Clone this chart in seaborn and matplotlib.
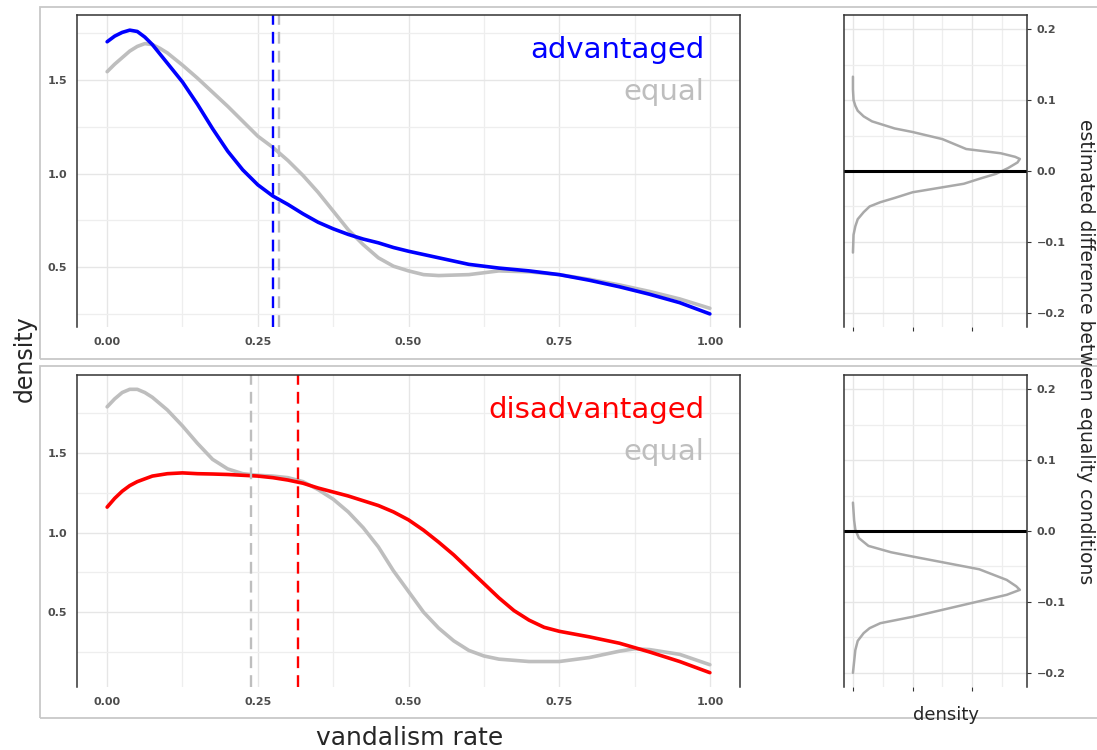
import numpy as np
import pandas as pd
import matplotlib
matplotlib.use("Agg")
import matplotlib.pyplot as plt
from matplotlib.patches import Rectangle
from matplotlib.ticker import MultipleLocator, FixedLocator
import seaborn as sns

# ---------------- data ----------------
adv_x = [0.0, 0.0125, 0.025, 0.0375, 0.05, 0.0625, 0.075, 0.0875, 0.1, 0.125, 0.15, 0.175, 0.2,
         0.225, 0.25, 0.275, 0.3, 0.325, 0.35, 0.375, 0.4, 0.425, 0.45, 0.475, 0.5, 0.55, 0.6,
         0.65, 0.7, 0.75, 0.8, 0.85, 0.9, 0.95, 1.0]
adv_y = [1.705, 1.735, 1.755, 1.767, 1.76, 1.73, 1.69, 1.64, 1.59, 1.49, 1.37, 1.24, 1.12,
         1.02, 0.94, 0.88, 0.835, 0.785, 0.74, 0.705, 0.675, 0.65, 0.63, 0.605, 0.585, 0.55, 0.515,
         0.495, 0.48, 0.46, 0.43, 0.395, 0.355, 0.31, 0.25]

eq1_x = [0.0, 0.0125, 0.025, 0.0375, 0.05, 0.0625, 0.075, 0.0875, 0.1, 0.125, 0.15, 0.175, 0.2,
         0.225, 0.25, 0.275, 0.3, 0.325, 0.35, 0.375, 0.4, 0.425, 0.45, 0.475, 0.5, 0.525, 0.55,
         0.6, 0.65, 0.7, 0.75, 0.8, 0.85, 0.9, 0.95, 1.0]
eq1_y = [1.545, 1.585, 1.62, 1.655, 1.68, 1.695, 1.69, 1.67, 1.645, 1.58, 1.51, 1.435, 1.36,
         1.28, 1.20, 1.14, 1.07, 0.99, 0.90, 0.80, 0.70, 0.62, 0.55, 0.505, 0.48, 0.46, 0.455,
         0.46, 0.48, 0.475, 0.46, 0.435, 0.405, 0.37, 0.33, 0.28]

dis_x = [0.0, 0.0125, 0.025, 0.0375, 0.05, 0.075, 0.1, 0.125, 0.15, 0.175, 0.2, 0.225, 0.25,
         0.275, 0.3, 0.325, 0.35, 0.375, 0.4, 0.425, 0.45, 0.475, 0.5, 0.525, 0.55, 0.575, 0.6,
         0.625, 0.65, 0.675, 0.7, 0.725, 0.75, 0.8, 0.85, 0.9, 0.95, 1.0]
dis_y = [1.16, 1.215, 1.26, 1.295, 1.32, 1.355, 1.37, 1.375, 1.37, 1.368, 1.365, 1.36, 1.355,
         1.345, 1.33, 1.31, 1.28, 1.255, 1.23, 1.20, 1.17, 1.13, 1.08, 1.015, 0.94, 0.86, 0.77,
         0.68, 0.59, 0.51, 0.45, 0.405, 0.38, 0.345, 0.305, 0.25, 0.19, 0.12]

eq2_x = [0.0, 0.0125, 0.025, 0.0375, 0.05, 0.0625, 0.075, 0.0875, 0.1, 0.125, 0.15, 0.175, 0.2,
         0.225, 0.25, 0.275, 0.3, 0.325, 0.35, 0.375, 0.4, 0.425, 0.45, 0.475, 0.5, 0.525, 0.55,
         0.575, 0.6, 0.625, 0.65, 0.7, 0.75, 0.8, 0.85, 0.875, 0.9, 0.95, 1.0]
eq2_y = [1.79, 1.84, 1.88, 1.90, 1.90, 1.88, 1.85, 1.81, 1.77, 1.67, 1.56, 1.46, 1.40,
         1.37, 1.36, 1.355, 1.345, 1.32, 1.27, 1.21, 1.13, 1.03, 0.91, 0.76, 0.63, 0.50, 0.40,
         0.32, 0.26, 0.225, 0.205, 0.19, 0.19, 0.215, 0.255, 0.27, 0.265, 0.235, 0.17]

mean_adv, mean_eq1 = 0.275, 0.285
mean_dis, mean_eq2 = 0.317, 0.239

diff1_y = [0.133, 0.115, 0.10, 0.092, 0.085, 0.077, 0.07, 0.06, 0.055, 0.045, 0.031, 0.025,
           0.020, 0.017, 0.012, 0.004, -0.004, -0.010, -0.018, -0.030, -0.038, -0.044, -0.050,
           -0.058, -0.068, -0.078, -0.09, -0.115]
diff1_d = [0.0, 0.0, 0.05, 0.2, 0.4, 0.9, 1.6, 3.5, 5.0, 7.5, 9.5, 12.4,
           13.6, 14.0, 13.8, 13.0, 12.0, 10.8, 9.3, 5.0, 3.5, 2.3, 1.4,
           0.9, 0.4, 0.2, 0.05, 0.0]

diff2_y = [0.040, 0.015, 0.002, -0.010, -0.021, -0.030, -0.036, -0.045, -0.054, -0.069,
           -0.078, -0.083, -0.090, -0.101, -0.121, -0.130, -0.137, -0.144, -0.155, -0.168, -0.200]
diff2_d = [0.0, 0.1, 0.2, 0.5, 1.3, 3.2, 5.0, 7.8, 10.6, 12.9,
           13.7, 14.0, 12.9, 10.1, 5.0, 2.3, 1.4, 0.9, 0.4, 0.2, 0.0]

x_ticks = [0.0, 0.25, 0.5, 0.75, 1.0]
x_ticklabels = ["0.00", "0.25", "0.50", "0.75", "1.00"]
y_ticks = [0.5, 1.0, 1.5]
d_ticks = [-0.2, -0.1, 0.0, 0.1, 0.2]

BLUE, RED, GREY, DGREY = "#0000ff", "#ff0000", "#bebebe", "#a9a9a9"

sns.set_style("white")
plt.rcParams["font.family"] = ["DejaVu Sans"]

fig = plt.figure(figsize=(10.97, 7.5), dpi=100)

W, H = 1097, 750
def pos(l, t, r, b):
    return [l / W, 1 - b / H, (r - l) / W, (b - t) / H]

ax1 = fig.add_axes(pos(77, 15, 740, 327))
ax2 = fig.add_axes(pos(77, 375, 740, 687))
ax3 = fig.add_axes(pos(844, 15, 1027, 327))
ax4 = fig.add_axes(pos(844, 375, 1027, 687))

# panel boxes
fig.patches.append(Rectangle((40 / W, 1 - 359 / H), 1.1, (359 - 7) / H, transform=fig.transFigure,
                             fill=False, ec="#c8c8c8", lw=1.3, zorder=0))
fig.patches.append(Rectangle((40 / W, 1 - 718 / H), 1.1, (718 - 366) / H, transform=fig.transFigure,
                             fill=False, ec="#c8c8c8", lw=1.3, zorder=0))

def style(ax):
    ax.set_facecolor("white")
    for s in ["top", "left", "right"]:
        ax.spines[s].set_visible(True)
        ax.spines[s].set_color("#333333")
        ax.spines[s].set_linewidth(1.1)
    ax.spines["bottom"].set_visible(False)
    ax.grid(True, which="major", color="#e6e6e6", lw=1.0)
    ax.grid(True, which="minor", color="#eeeeee", lw=0.9)
    ax.set_axisbelow(True)
    ax.tick_params(axis="both", which="major", length=3, width=0.8, color="#333333",
                   labelsize=8, labelcolor="#4d4d4d", pad=4)
    ax.tick_params(which="minor", length=0)
    for lab in ax.get_xticklabels() + ax.get_yticklabels():
        lab.set_fontweight("bold")
    ax.set_xlabel("")
    ax.set_ylabel("")

# ---- left panels ----
def left_panel(ax, gx, gy, cx, cy, col, m_eq, m_c, name, ylim):
    sns.lineplot(x=gx, y=gy, ax=ax, color=GREY, lw=2.6, estimator=None, sort=False)
    sns.lineplot(x=cx, y=cy, ax=ax, color=col, lw=2.6, estimator=None, sort=False)
    ax.axvline(m_eq, color=GREY, lw=1.7, ls=(0, (5, 3)))
    ax.axvline(m_c, color=col, lw=1.7, ls=(0, (5, 3)))
    ax.set_xlim(-0.05, 1.05)
    ax.set_ylim(*ylim)
    ax.set_xticks(x_ticks)
    ax.set_xticklabels(x_ticklabels)
    ax.set_yticks(y_ticks)
    ax.xaxis.set_minor_locator(MultipleLocator(0.125))
    ax.yaxis.set_minor_locator(FixedLocator([0.25, 0.75, 1.25, 1.75]))
    style(ax)
    ax.text(0.946, 0.888, name, transform=ax.transAxes, ha="right", va="center",
            fontsize=21, color=col)
    ax.text(0.946, 0.752, "equal", transform=ax.transAxes, ha="right", va="center",
            fontsize=21, color=GREY)

left_panel(ax1, eq1_x, eq1_y, adv_x, adv_y, BLUE, mean_eq1, mean_adv, "advantaged", (0.18, 1.848))
left_panel(ax2, eq2_x, eq2_y, dis_x, dis_y, RED, mean_eq2, mean_dis, "disadvantaged", (0.03, 1.99))

# ---- right panels ----
def right_panel(ax, dd, dy):
    sns.lineplot(x=dd, y=dy, ax=ax, orient="y", color=DGREY, lw=1.8, estimator=None, sort=False)
    ax.axhline(0.0, color="black", lw=2.2)
    ax.set_xlim(-0.75, 14.6)
    ax.set_ylim(-0.22, 0.22)
    ax.set_xticks([0, 5, 10])
    ax.set_xticklabels(["", "", ""])
    ax.set_yticks(d_ticks)
    ax.set_yticklabels(["\u22120.2", "\u22120.1", "0.0", "0.1", "0.2"])
    ax.xaxis.set_minor_locator(FixedLocator([2.5, 7.5, 12.5]))
    ax.yaxis.set_minor_locator(FixedLocator([-0.15, -0.05, 0.05, 0.15]))
    ax.yaxis.tick_right()
    style(ax)
    ax.tick_params(axis="y", which="major", right=True, left=False, labelright=True, labelleft=False)
    ax.tick_params(axis="x", which="major", bottom=True, length=3)

right_panel(ax3, diff1_d, diff1_y)
right_panel(ax4, diff2_d, diff2_y)

# ---- shared labels ----
fig.text(25 / W, 1 - 359 / H, "density", rotation=90, ha="center", va="center", fontsize=17)
fig.text(410 / W, 1 - 738 / H, "vandalism rate", ha="center", va="center", fontsize=18)
fig.text(946 / W, 1 - 715 / H, "density", ha="center", va="center", fontsize=13)
fig.text(1085 / W, 1 - 352 / H, "estimated difference between equality conditions", rotation=-90,
         ha="center", va="center", fontsize=13.5)

fig.savefig("out.png", dpi=100)
